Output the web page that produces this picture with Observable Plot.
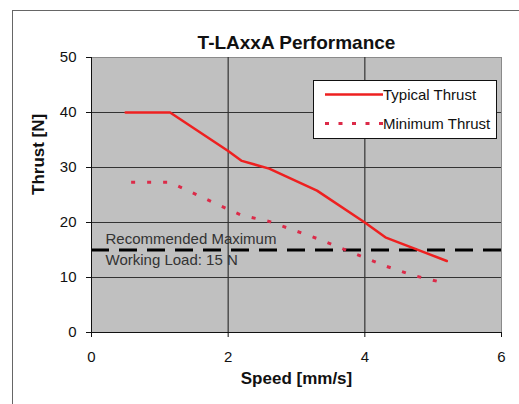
<!DOCTYPE html>
<html>
<head>
<meta charset="utf-8">
<script src="https://cdn.jsdelivr.net/npm/d3@7"></script>
<script src="https://cdn.jsdelivr.net/npm/@observablehq/plot@0.6"></script>
<style>
  html, body { margin: 0; padding: 0; background: #fff; }
  #wrap { position: relative; width: 519px; height: 404px; overflow: hidden; font-family: "Liberation Sans", Arial, sans-serif; }
  #border { position: absolute; left: 12px; top: 10px; width: 700px; height: 600px; border: 1px solid #666; box-sizing: border-box; }
  #chart { position: absolute; left: 0; top: 0; }
  #legend { position: absolute; left: 313px; top: 80px; }
</style>
</head>
<body>
<div id="wrap">
  <div id="border"></div>
  <div id="chart"></div>
  <div id="legend"></div>
</div>
<script>
// ---- data ----
const title = "T-LAxxA Performance";
const xLabel = "Speed [mm/s]";
const yLabel = "Thrust [N]";
const xTicks = [0, 2, 4, 6];
const yTicks = [0, 10, 20, 30, 40, 50];
const xGrid = [2, 4];
const yGrid = [10, 20, 30, 40];
const seriesNames = ["Typical Thrust", "Minimum Thrust"];
const seriesColors = ["#ee2020", "#dc2a48"];
const typicalSpeed = [0.5, 1.15, 2.0, 2.2, 2.6, 3.3, 4.0, 4.3, 4.7, 5.2];
const typicalThrust = [40, 40, 33, 31.2, 29.8, 25.8, 20, 17.3, 15.4, 13];
const minimumSpeed = [0.58, 1.15, 2.0, 2.2, 2.6, 3.3, 4.0, 4.3, 4.7, 5.2];
const minimumThrust = [27.3, 27.3, 22.4, 21.3, 20.2, 17.1, 13.6, 12.1, 10.4, 8.9];
const workingLoad = [15];
const loadLabel = ["Recommended Maximum", "Working Load: 15 N"];

const typical = typicalSpeed.map((s, i) => ({speed: s, thrust: typicalThrust[i]}));
const minimum = minimumSpeed.map((s, i) => ({speed: s, thrust: minimumThrust[i]}));

const chart = Plot.plot({
  width: 519,
  height: 404,
  marginLeft: 91,
  marginRight: 18,
  marginTop: 57,
  marginBottom: 72,
  style: {fontFamily: "'Liberation Sans', Arial, sans-serif", fontSize: "15px", color: "#111", background: "transparent"},
  x: {domain: [0, 6]},
  y: {domain: [0, 50]},
  marks: [
    Plot.frame({fill: "#c0c0c0", stroke: "#8a8a8a"}),
    Plot.ruleY(yGrid, {stroke: "#333", strokeWidth: 1.2}),
    Plot.ruleX(xGrid, {stroke: "#333", strokeWidth: 1.2}),
    Plot.ruleY(workingLoad, {stroke: "#000", strokeWidth: 3, strokeDasharray: "18 10"}),
    Plot.text(workingLoad, {y: d => d, frameAnchor: "left", text: () => loadLabel.join("\n"),
      textAnchor: "start", dx: 14, dy: -2, lineHeight: 1.4, fill: "#333", fontSize: 15}),
    Plot.line(minimum, {x: "speed", y: "thrust", stroke: seriesColors[1], strokeWidth: 3,
      strokeDasharray: "4 12", strokeLinecap: "butt"}),
    Plot.line(typical, {x: "speed", y: "thrust", stroke: seriesColors[0], strokeWidth: 2.5}),
    Plot.ruleX([0], {stroke: "#111"}),
    Plot.ruleY([0], {stroke: "#111"}),
    Plot.axisY({ticks: yTicks, tickSize: 5, tickPadding: 10, tickFormat: d3.format("d"), label: null}),
    Plot.axisX({ticks: xTicks, tickSize: 5, tickPadding: 14, tickFormat: d3.format("d"), label: null}),
    Plot.text([title], {frameAnchor: "top", dy: -22, fontSize: 19, fontWeight: "bold", fill: "#111"}),
    Plot.text([xLabel], {frameAnchor: "bottom", dy: 51, fontSize: 17, fontWeight: "bold", fill: "#111"}),
    Plot.text([yLabel], {frameAnchor: "left", dx: -53, rotate: -90, fontSize: 17, fontWeight: "bold", fill: "#111"})
  ]
});
document.getElementById("chart").appendChild(chart);

// ---- legend ----
const W = 184, H = 59;
const leg = d3.select("#legend").append("svg").attr("width", W).attr("height", H)
  .style("font-family", "'Liberation Sans', Arial, sans-serif").style("font-size", "15px");
leg.append("rect").attr("x", 0.5).attr("y", 0.5).attr("width", W - 1).attr("height", H - 1)
  .attr("fill", "#fff").attr("stroke", "#111");
const rows = seriesNames.map((n, i) => ({name: n, color: seriesColors[i], dash: i === 0 ? null : "4 9.5", y: i === 0 ? 14.5 : 43.5}));
rows.forEach(r => {
  leg.append("line").attr("x1", 12).attr("x2", 70).attr("y1", r.y).attr("y2", r.y)
    .attr("stroke", r.color).attr("stroke-width", r.dash ? 3 : 2.5).attr("stroke-dasharray", r.dash);
  leg.append("text").attr("x", 70).attr("y", r.y).attr("dy", "0.35em").attr("fill", "#111").text(r.name);
});
</script>
</body>
</html>
